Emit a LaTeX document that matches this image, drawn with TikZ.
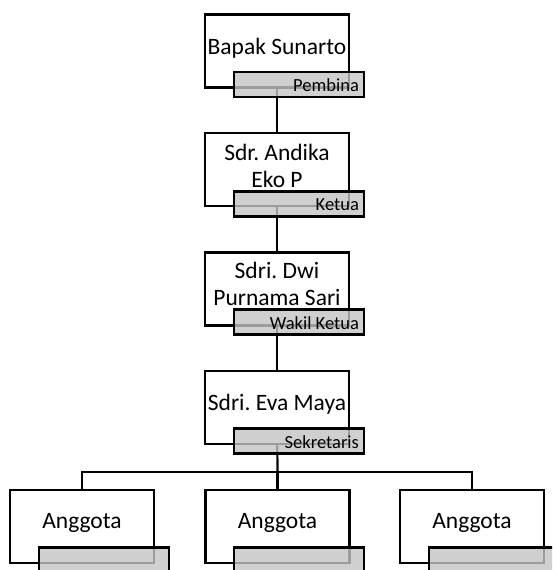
\documentclass[tikz,border=0pt]{standalone}
\usepackage{fontspec}
\setmainfont{Carlito}
\usetikzlibrary{backgrounds}
\tikzset{
  x=1pt, y=-1pt,
  namebox/.style={draw=black, line width=2.2pt, fill=white, minimum width=144pt, minimum height=73pt, inner sep=0pt},
  nametext/.style={align=center, inner sep=0pt, font=\fontsize{23.5}{27}\selectfont},
  rolebox/.style={draw=black, line width=2.2pt, fill={rgb,255:red,196;green,196;blue,196}, fill opacity=0.8, draw opacity=1, minimum width=130pt, minimum height=25pt, inner sep=0pt},
  roletext/.style={anchor=east, inner sep=0pt, font=\fontsize{18.5}{20}\selectfont},
  link/.style={draw=black, line width=2.2pt}
}
\begin{document}
\frenchspacing
\begin{tikzpicture}
\useasboundingbox (0,0) rectangle (552,570);
\clip (0,0) rectangle (552,570);
% name boxes
\node[namebox] (b1) at (277,51) {};
\node[namebox] (b2) at (277,169.5) {};
\node[namebox] (b3) at (277,289) {};
\node[namebox] (b4) at (277,407.5) {};
\node[namebox] (a1) at (82,526.5) {};
\node[namebox] (a2) at (277.5,526.5) {};
\node[namebox] (a3) at (472,526.5) {};
% name texts
\node[nametext] (t1) at ([yshift=3pt]b1.center) {Bapak Sunarto};
\node[nametext] (t2) at ([yshift=4pt]b2.center) {Sdr. Andika\\Eko P};
\node[nametext] (t3) at ([yshift=5pt]b3.center) {Sdri. Dwi\\Purnama Sari};
\node[nametext] (t4) at ([yshift=3pt]b4.center) {Sdri. Eva Maya};
\node[nametext] (ta1) at ([yshift=4pt]a1.center) {Anggota};
\node[nametext] (ta2) at ([yshift=4pt]a2.center) {Anggota};
\node[nametext] (ta3) at ([yshift=4pt]a3.center) {Anggota};
% role boxes
\node[rolebox] (r1) at (299,84.5) {};
\node[rolebox] (r2) at (299,204) {};
\node[rolebox] (r3) at (299,322) {};
\node[rolebox] (r4) at (299,441) {};
\node[rolebox] (ra1) at (104,560) {};
\node[rolebox] (ra2) at (299,560) {};
\node[rolebox] (ra3) at (494,560) {};
% role texts
\node[roletext] (s1) at ([xshift=-6pt,yshift=-1pt]r1.east) {Pembina};
\node[roletext] (s2) at ([xshift=-6pt,yshift=-1pt]r2.east) {Ketua};
\node[roletext] (s3) at ([xshift=-6pt,yshift=-1pt]r3.east) {Wakil Ketua};
\node[roletext] (s4) at ([xshift=-6pt,yshift=-1pt]r4.east) {Sekretaris};
% connectors
\coordinate (bus) at (277.5,472);
\begin{scope}[on background layer]
\draw[link] (b1.center) -- (b2.center);
\draw[link] (b2.center) -- (b3.center);
\draw[link] (b3.center) -- (b4.center);
\draw[link] (b4.center) -- (bus);
\draw[link] (a1.center) -- (a1.center |- bus) -- (a3.center |- bus) -- (a3.center);
\draw[link] (bus) -- (a2.center);
\end{scope}
\end{tikzpicture}
\end{document}
